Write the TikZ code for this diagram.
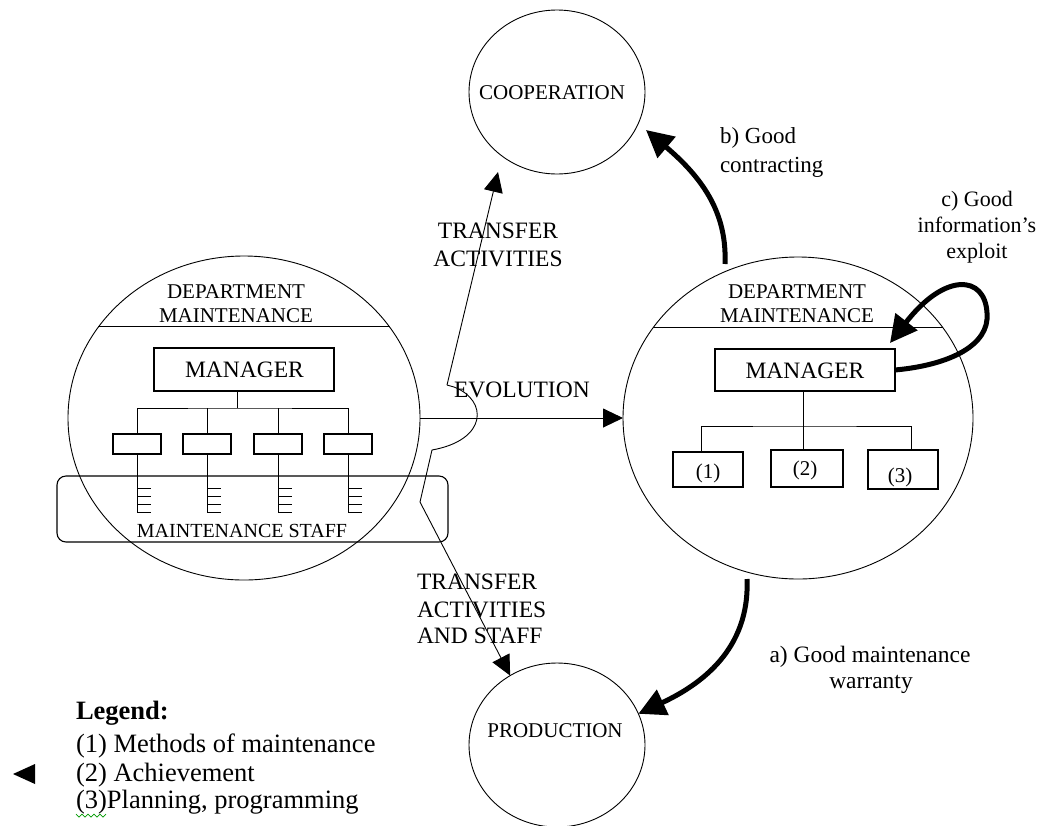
\documentclass[tikz,border=0pt]{standalone}
\usepackage{fontspec}
\setmainfont{Liberation Serif}
\usetikzlibrary{shapes.geometric,arrows.meta}
\newcommand\fsz[1]{\fontsize{#1}{#1}\selectfont}
\begin{document}
\begin{tikzpicture}[x=1pt,y=-1pt,
 thinline/.style={line width=0.9pt},
 circ/.style={draw, ellipse, line width=0.9pt, inner sep=0pt, outer sep=0pt},
 mgr/.style={draw, line width=2.6pt, inner sep=0pt, outer sep=0pt},
 sbox/.style={draw, line width=1.1pt, minimum width=48pt, minimum height=20pt, inner sep=0pt, outer sep=0pt},
 nbox/.style={draw, line width=1.1pt, inner sep=0pt, outer sep=0pt},
 lbl/.style={inner sep=0pt, outer sep=0pt, anchor=base},
 lblw/.style={inner sep=0pt, outer sep=0pt, anchor=base west},
 thinarrow/.style={line width=0.9pt, -{Triangle[length=20pt,width=19pt]}},
 thickarrow/.style={line width=5pt, -{Triangle[length=27pt,width=27pt]}},
]
\useasboundingbox (0,0) rectangle (1043,825);

% circles
\node[circ, minimum width=352pt, minimum height=324pt] (L) at (244,418) {};
\node[circ, minimum width=350pt, minimum height=322pt] (R) at (798,418) {};
\node[circ, minimum width=176pt, minimum height=164pt] (COOP) at (557,92) {};
\node[circ, minimum width=176pt, minimum height=164pt] (PROD) at (557,745) {};

% chords
\draw[thinline] (98,326) -- (390,326);
\draw[thinline] (653,327) -- (943,327);

% department texts
\node[lbl, font=\fsz{21}] (depL1) at (236,298) {DEPARTMENT};
\node[lbl, font=\fsz{21}] (depL2) at (236,322) {MAINTENANCE};
\node[lbl, font=\fsz{21}] (depR1) at (797,298) {DEPARTMENT};
\node[lbl, font=\fsz{21}] (depR2) at (797,322) {MAINTENANCE};

% managers
\node[mgr, minimum width=180pt, minimum height=43pt] (mgrL) at (244,369.5) {};
\node[lbl, font=\fsz{23.5}] (mgrLt) at (244.5,377) {MANAGER};
\node[mgr, minimum width=180pt, minimum height=42pt] (mgrR) at (805,370) {};
\node[lbl, font=\fsz{23.5}] (mgrRt) at (805,378) {MANAGER};

% left tree
\coordinate (busL) at (237,408);
\foreach \i/\x in {1/137,2/207,3/278,4/348} \node[sbox] (sb\i) at (\x,444) {};
\draw[thinline] (busL |- mgrL.south) -- (busL);
\draw[thinline] (sb1.north) |- (busL) -| (sb4.north);
\draw[thinline] (sb2.north) -- (sb2.north |- busL);
\draw[thinline] (sb3.north) -- (sb3.north |- busL);
\foreach \i in {1,...,4} {
  \draw[thinline] (sb\i.south) -- ++(0,58) -- ++(14,0);
  \foreach \d in {34,42,50} \draw[thinline] (sb\i.south) ++(0,\d) -- ++(14,0);
}

% staff box
\node[draw, line width=1.1pt, rounded corners=9pt, minimum width=391pt, minimum height=66pt, inner sep=0pt] (staff) at (252.5,509) {};
\node[lbl, font=\fsz{20}] (stafft) at (242,537) {MAINTENANCE STAFF};

% right tree
\coordinate (busR) at (803,426);
\node[nbox, minimum width=70pt, minimum height=35pt] (b1) at (708,469.5) {};
\node[nbox, minimum width=72pt, minimum height=37pt] (b2) at (807,468.5) {};
\node[nbox, minimum width=70pt, minimum height=39pt] (b3) at (903,469.5) {};
\draw[thinline] (busR |- mgrR.south) -- (busR |- b2.north);
\draw[thinline] ([xshift=-7pt]b1.north) |- (busR) -| ([xshift=8pt]b3.north);
\node[lbl, font=\fsz{21}] (n1) at (708,478) {(1)};
\node[lbl, font=\fsz{21}] (n2) at (805,475) {(2)};
\node[lbl, font=\fsz{21}] (n3) at (900,482) {(3)};

% evolution
\draw[thinarrow] (L.east) -- (R.west);
\node[lblw, font=\fsz{23.5}] (evo) at (454,397) {EVOLUTION};

% transfers
\coordinate (J) at (447,385);
\coordinate (tipC) at (498,172);
\draw[thinarrow] (J) -- (tipC);
\draw[thinarrow] (J) -- (454,387) .. controls (488,400) and (488,440) .. (432,450) -- (420,502) -- (PROD.124);
\node[lbl, font=\fsz{23.5}] (ta1) at (498,238) {TRANSFER};
\node[lbl, font=\fsz{23.5}] (ta2) at (498,266) {ACTIVITIES};
\node[lblw, font=\fsz{23.5}] (tas1) at (417,589) {TRANSFER};
\node[lblw, font=\fsz{23.5}] (tas2) at (417,617) {ACTIVITIES};
\node[lblw, font=\fsz{23.5}] (tas3) at (417,643) {AND STAFF};

\node[lbl, font=\fsz{21}] (coopt) at (552,99) {COOPERATION};
\node[lbl, font=\fsz{21}] (prodt) at (555,737) {PRODUCTION};

% thick arrows
\coordinate (bS) at (725,264);
\coordinate (bT) at (646,130);
\draw[thickarrow] (bS) .. controls (727,215) and (705,180) .. (bT);
\coordinate (aS) at (747,579);
\draw[thickarrow] (aS) .. controls (750,650) and (700,685) .. (PROD.21);
\coordinate (cT) at (890,343);
\draw[thickarrow] (mgrR.east) .. controls (950,365) and (990,345) .. (987,313) .. controls (985,275) and (945,272) .. (cT);

% arrow labels
\node[lblw, font=\fsz{23}] (bl1) at (720,143) {b) Good};
\node[lblw, font=\fsz{23}] (bl2) at (720,172) {contracting};
\node[lbl, font=\fsz{22}] (cl1) at (977,206) {c) Good};
\node[lbl, font=\fsz{22}] (cl2) at (977,232) {information’s};
\node[lbl, font=\fsz{22}] (cl3) at (977,258) {exploit};
\node[lbl, font=\fsz{23.5}] (al1) at (870,662) {a) Good maintenance};
\node[lbl, font=\fsz{23.5}] (al2) at (871,688) {warranty};

% legend
\node[lblw, font=\fsz{26.5}] (lg0) at (76,719) {\bfseries Legend:};
\node[lblw, font=\fsz{26.5}] (lg1) at (76,752) {(1) Methods of maintenance};
\node[lblw, font=\fsz{26.5}] (lg2) at (76,781) {(2) Achievement};
\node[lblw, font=\fsz{26.5}] (lg3) at (76,808) {(3)Planning, programming};
\fill (13,774) -- (35,764) -- (35,784) -- cycle;
\draw[green!60!black, line width=0.7pt] (76,814)--(79,817)--(82,814)--(85,817)--(88,814)--(91,817)--(94,814)--(97,817)--(100,814)--(103,817)--(106,814);
\end{tikzpicture}
\end{document}
